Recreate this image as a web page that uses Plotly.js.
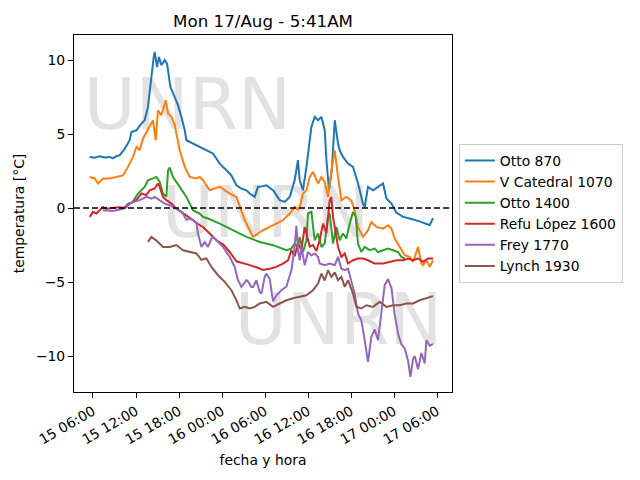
<!DOCTYPE html>
<html>
<head>
<meta charset="utf-8">
<script src="https://cdn.plot.ly/plotly-3.0.1.min.js"></script>
<style>html,body{margin:0;padding:0;background:#fff;}#chart{width:640px;height:480px;}</style>
</head>
<body>
<div id="chart"></div>
<script>
// hours since 2020-08-15 00:00 and temperatures [°C]
const otto870H = [5.54,6.2,6.93,7.6,8.33,8.79,9.27,9.73,10.42,11.12,11.36,12.06,12.75,13.21,13.67,13.91,14.15,14.47,14.61,14.93,15.21,15.54,16.0,16.33,16.6,16.8,17.4,17.86,18.33,18.8,19.03,19.49,20.43,21.59,22.28,22.74,23.68,24.61,25.31,26.01,26.71,27.41,27.87,28.56,29.02,29.26,30.2,31.12,32.05,32.75,33.45,34.14,34.6,34.84,35.3,35.78,36.24,36.47,36.93,37.4,37.87,38.33,38.57,38.93,39.31,39.73,40.19,40.42,40.88,41.58,42.28,42.98,43.67,43.91,44.37,45.07,45.77,46.47,46.94,47.64,48.33,49.26,50.19,51.58,52.98,53.44];
const otto870T = [3.45,3.4,3.5,3.42,3.45,3.35,3.5,3.57,4.0,4.58,5.14,5.25,5.7,5.93,6.83,7.96,8.86,10.2,10.55,9.53,10.2,9.65,9.99,9.76,8.86,8.18,7.5,6.95,6.16,5.26,4.58,4.47,4.24,4.02,3.8,3.68,3.0,2.55,2.2,1.54,1.32,1.2,0.98,0.75,1.43,1.43,1.54,1.2,0.53,0.41,0.75,1.88,3.23,1.88,1.2,2.78,4.58,5.48,6.16,5.93,6.16,5.26,3.23,1.2,2.5,5.93,4.36,3.9,3.45,3.0,2.78,1.66,0.3,0.07,1.43,1.2,1.43,1.66,0.64,0.3,-0.3,-0.6,-0.71,-0.9,-1.16,-0.68];

const catedralH = [5.54,6.24,6.7,7.4,8.33,9.27,10.19,10.88,11.58,12.06,12.52,12.98,13.45,13.91,14.37,14.75,15.07,15.54,15.87,16.14,16.47,16.94,17.4,17.86,18.1,18.8,19.49,20.43,20.89,21.35,22.05,22.28,23.68,25.07,26.01,26.47,27.17,27.87,28.33,29.02,29.72,30.66,31.59,32.51,33.45,34.14,34.6,34.84,35.3,35.78,36.24,36.69,37.4,37.87,38.33,38.79,39.26,39.73,40.19,40.66,41.35,42.05,42.51,42.97,43.67,44.37,44.84,45.54,46.47,47.16,47.64,48.1,48.8,49.5,50.19,50.65,51.35,51.82,52.05,52.52,52.98,53.44];
const catedralT = [2.1,2.0,1.66,2.0,2.0,2.1,2.2,2.78,3.45,4.13,3.9,4.7,5.14,5.6,5.93,4.58,6.6,6.27,6.83,7.28,6.38,6.16,5.6,4.58,3.9,2.78,2.1,2.0,2.1,1.88,1.43,1.2,1.45,0.98,0.75,0.07,-0.82,-1.5,-1.95,-1.72,-1.5,-1.28,-1.05,-0.82,-0.37,0.07,-0.1,0.07,0.98,1.2,2.1,2.44,1.66,2.1,1.77,0.75,2.55,3.9,2.1,0.53,0.75,0.5,-0.15,-1.28,-1.95,-1.5,-0.94,-1.28,-1.39,-1.16,-1.39,-2.06,-2.63,-3.19,-3.3,-3.64,-2.63,-3.75,-3.86,-3.53,-3.98,-3.53];

const otto1400H = [11.58,12.28,13.21,13.67,14.37,14.85,15.31,15.77,16.24,16.47,16.7,17.16,18.1,19.03,19.95,20.89,21.35,22.05,23.68,25.53,27.41,29.26,31.12,32.99,33.68,34.14,34.6,34.84,35.3,35.78,36.0,36.47,36.93,37.4,37.87,38.33,38.79,39.03,39.49,39.96,40.42,40.88,41.35,41.82,42.28,42.66,42.97,43.44,43.91,44.61,45.3,45.77,46.47,47.16,47.86,48.56,49.03,49.5];
const otto1400T = [0.45,0.98,1.43,1.88,2.0,2.1,1.77,0.98,0.75,2.55,2.73,2.1,1.43,0.75,-0.15,-0.37,-0.6,-0.71,-1.05,-1.5,-1.95,-2.29,-2.51,-2.85,-2.74,-2.4,-2.63,-1.95,-2.97,-2.18,-0.37,-0.26,-2.18,-1.72,-2.63,-2.4,-0.6,-0.37,-2.4,-1.28,-2.18,-1.72,-2.06,-1.05,-0.26,-0.6,-2.4,-2.97,-2.63,-2.85,-2.74,-2.97,-2.85,-2.74,-2.85,-2.97,-3.3,-3.41];

const lopezH = [5.54,6.0,6.47,6.93,7.4,7.87,8.5,9.5,10.5,11.12,12.06,12.75,13.45,13.91,14.61,15.07,15.31,15.77,16.24,16.94,17.64,18.33,19.03,19.95,20.89,21.35,22.28,23.22,24.14,25.07,26.01,26.93,27.87,28.8,29.72,30.66,31.59,32.51,33.21,33.68,34.14,34.6,35.07,35.54,36.0,36.24,36.69,37.17,37.63,38.09,38.57,39.03,39.26,39.49,39.73,40.19,40.66,41.12,41.58,42.28,42.97,43.67,44.37,45.3,46.47,47.4,48.33,49.26,49.95,50.65,51.35,52.05,52.75,53.44];
const lopezT = [-0.6,-0.26,-0.37,-0.15,0.07,-0.05,0.0,0.05,0.0,0.3,0.53,0.98,0.87,1.2,1.32,1.66,1.43,0.75,0.53,0.3,-0.04,-0.26,-0.49,-0.82,-1.16,-1.28,-1.72,-2.18,-2.45,-2.97,-3.6,-3.75,-3.86,-4.0,-4.18,-4.1,-3.98,-3.75,-3.53,-2.85,-3.25,-2.4,-2.85,-1.28,-2.18,-2.6,-2.5,-2.9,-2.18,-1.05,-1.7,0.53,0.75,-0.6,-1.28,-2.63,-3.3,-3.07,-3.75,-3.53,-3.41,-3.41,-3.53,-3.75,-3.75,-3.64,-3.53,-3.53,-3.41,-3.53,-3.41,-3.64,-3.41,-3.41];

const freyH = [7.4,8.79,9.27,10.19,10.88,11.58,12.52,13.45,14.15,14.61,15.31,16.0,16.7,17.64,18.56,19.03,19.49,19.95,20.43,20.65,21.13,21.59,22.05,22.52,22.74,23.22,24.14,25.07,25.77,26.23,26.71,27.41,27.63,28.1,28.33,28.8,29.26,29.5,29.96,30.2,30.66,31.12,31.59,32.29,32.99,33.68,34.14,34.38,34.6,34.84,35.07,35.54,36.0,36.47,36.93,37.4,37.63,38.33,39.03,39.73,40.19,40.66,41.12,41.58,42.05,42.51,42.97,43.44,43.91,44.37,44.84,45.3,45.77,46.24,46.7,47.16,47.64,48.1,48.56,49.03,49.5,49.95,50.29,50.65,50.89,51.35,51.82,52.28,52.52,52.98,53.44];
const freyT = [-0.15,-0.2,-0.15,-0.05,0.3,0.41,0.53,0.75,0.64,0.75,0.53,0.3,0.19,-0.04,-0.37,-0.8,-0.71,-0.82,-1.05,-1.72,-2.63,-2.3,-2.63,-2.06,-1.95,-2.18,-2.63,-3.3,-3.98,-4.88,-5.33,-4.88,-4.96,-5.33,-5.33,-4.88,-5.67,-5.78,-4.65,-4.43,-4.8,-6.3,-5.9,-5.55,-5.3,-4.2,-2.6,-1.2,-2.85,-3.53,-2.63,-3.86,-2.97,-3.2,-3.07,-3.3,-3.75,-3.86,-3.75,-3.86,-3.3,-4.1,-4.2,-4.1,-4.88,-5.8,-7.13,-7.58,-8.93,-10.4,-8.7,-8.2,-8.93,-7.2,-5.2,-4.8,-5.4,-7.2,-8.5,-9.2,-9.5,-10.3,-11.4,-10.2,-10.0,-10.9,-9.8,-10.5,-8.93,-9.3,-9.2];

const lynchH = [13.67,14.15,14.85,15.77,16.7,17.64,18.56,19.49,20.43,21.13,21.82,22.52,23.44,24.38,25.31,26.01,26.47,27.17,27.87,28.56,29.26,30.2,31.12,32.05,32.99,33.91,34.84,35.78,36.69,37.4,37.87,38.33,38.79,39.26,39.73,40.19,40.66,41.12,41.58,42.28,42.75,43.44,44.14,45.07,46.0,46.94,47.86,48.8,49.73,50.65,51.58,52.52,53.44];
const lynchT = [-2.29,-1.95,-2.2,-2.63,-2.63,-2.5,-2.85,-2.95,-3.07,-3.5,-3.4,-3.98,-4.54,-4.99,-5.55,-6.23,-6.79,-6.68,-6.79,-6.68,-6.45,-6.34,-6.68,-6.45,-6.23,-6.1,-6.0,-5.9,-5.55,-5.1,-4.43,-4.9,-4.2,-4.65,-4.35,-4.88,-4.65,-5.33,-4.88,-5.78,-6.68,-6.79,-6.57,-6.68,-6.34,-6.68,-6.57,-6.57,-6.45,-6.45,-6.23,-6.1,-5.95];

const seriesNames = ['Otto 870','V Catedral 1070','Otto 1400','Refu López 1600','Frey 1770','Lynch 1930'];
const seriesColors = ['#1f77b4','#ff7f0e','#2ca02c','#d62728','#9467bd','#8c564b'];
const seriesH = [otto870H, catedralH, otto1400H, lopezH, freyH, lynchH];
const seriesT = [otto870T, catedralT, otto1400T, lopezT, freyT, lynchT];

const base = Date.UTC(2020, 7, 15, 0, 0, 0);
function hToDate(h) {
  const d = new Date(base + h * 3600000);
  return d.toISOString().slice(0, 19).replace('T', ' ');
}

const font = 'DejaVu Sans, sans-serif';
const traces = seriesNames.map((name, i) => ({
  type: 'scatter', mode: 'lines', name: name,
  x: seriesH[i].map(hToDate), y: seriesT[i],
  line: {color: seriesColors[i], width: 2}
}));

const wm = [[0.30, 0.82], [0.507, 0.518], [0.70, 0.218]];
const shapes = wm.map(p => ({
  type: 'rect', xref: 'paper', yref: 'paper',
  x0: p[0] - 0.3, x1: p[0] + 0.3, y0: p[1] - 0.1, y1: p[1] + 0.1,
  line: {width: 0}, fillcolor: 'rgba(0,0,0,0)', layer: 'below',
  label: {text: 'UNRN', textposition: 'middle center', font: {family: font, size: 71, color: '#e2e2e2'}}
}));
shapes.push({
  type: 'line', xref: 'paper', yref: 'y', x0: 0, x1: 1, y0: 0, y1: 0,
  line: {color: 'black', width: 1.5, dash: '6px,3px'}, layer: 'above'
});

const layout = {
  width: 640, height: 480,
  margin: {l: 74, r: 188, t: 35, b: 88, pad: 0},
  paper_bgcolor: 'white', plot_bgcolor: 'rgba(0,0,0,0)',
  font: {family: font, size: 13.9, color: 'black'},
  title: {text: 'Mon 17/Aug - 5:41AM', font: {family: font, size: 16.7, color: 'black'}, x: 0.411, xanchor: 'center', y: 0.955, yanchor: 'middle'},
  xaxis: {
    type: 'date', range: [hToDate(3.35), hToDate(56.09)],
    tick0: hToDate(0), dtick: 6 * 3600000, tickformat: '%d %H:%M', tickangle: -30,
    ticks: 'outside', ticklen: 5, tickcolor: 'black', showline: true, linecolor: 'black', linewidth: 1, mirror: true,
    showgrid: false, zeroline: false,
    title: {text: 'fecha y hora', font: {family: font, size: 13.9}, standoff: 8}
  },
  yaxis: {
    range: [-12.43, 11.69], tickvals: [-10, -5, 0, 5, 10],
    ticks: 'outside', ticklen: 5, tickcolor: 'black', showline: true, linecolor: 'black', linewidth: 1, mirror: true,
    showgrid: false, zeroline: false,
    title: {text: 'temperatura [°C]', font: {family: font, size: 13.9}, standoff: 8}
  },
  legend: {x: 1.018, y: 0.5, xanchor: 'left', yanchor: 'middle', bordercolor: '#cccccc', borderwidth: 1,
    font: {family: font, size: 13.9}, itemwidth: 30, tracegroupgap: 0},
  shapes: shapes,
  showlegend: true
};

Plotly.newPlot('chart', traces, layout, {staticPlot: true, displayModeBar: false});
</script>
</body>
</html>
